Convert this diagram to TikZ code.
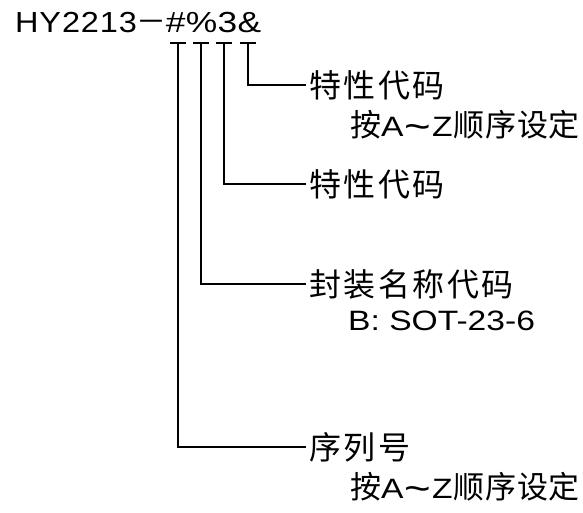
\documentclass[tikz,border=0pt]{standalone}
\usepackage{fontspec}
\usepackage{graphicx}
\setmainfont{Liberation Sans}
\newfontfamily\cjkmain[LetterSpace=8]{Noto Sans CJK SC}
\newfontfamily\cjksub[LetterSpace=2]{Noto Sans CJK SC}
\newfontfamily\latT[FakeStretch=1.12,LetterSpace=3]{Liberation Sans}
\newfontfamily\latU[FakeStretch=1.22,LetterSpace=1]{Liberation Sans}
\newfontfamily\latS[FakeStretch=1.2]{Liberation Sans}
\newcommand{\azrange}{{\fontsize{28}{34}\selectfont\latS A\kern1pt\raisebox{-3pt}{\fontsize{38}{40}\selectfont\textasciitilde}\kern1pt Z\kern1pt}}
\begin{document}
\begin{tikzpicture}[x=1pt,y=-1pt,
  wire/.style={line width=1.2pt},
  lab/.style={anchor=west, inner xsep=3pt, inner ysep=0pt, font=\fontsize{32}{36}\selectfont\cjkmain},
  sub/.style={anchor=base west, inner sep=0pt, font=\fontsize{31}{36}\selectfont\cjksub},
  latin/.style={font=\fontsize{28}{34}\selectfont\latS}]
\useasboundingbox (0,0) rectangle (583,513);
\node[anchor=base west, inner sep=0pt, font=\fontsize{29}{34}\selectfont] (title) at (15,33)
  {\latT HY2213{\fontsize{30}{34}\selectfont\cjksub －}\kern-1pt\latU\#\%3\&};
\coordinate (t1) at (178,43);
\coordinate (t2) at (201,43);
\coordinate (t3) at (224,43);
\coordinate (t4) at (248,43);
\foreach \t in {t1,t2,t3,t4}
  \draw[wire] ([xshift=-8pt]\t) -- ([xshift=8pt]\t);
\node[lab] (l1) at (306,85) {特性代码};
\node[sub] (s1) at (350,137) {按\azrange 顺序设定};
\node[lab] (l2) at (306,184) {特性代码};
\node[lab] (l3) at (306,284) {封装名称代码};
\node[anchor=base west, inner sep=0pt, latin] (s3) at (348,330) {B: SOT-23-6};
\node[lab] (l4) at (306,447) {序列号};
\node[sub] (s4) at (350,498) {按\azrange 顺序设定};
\draw[wire] (t4) |- (l1.west);
\draw[wire] (t3) |- (l2.west);
\draw[wire] (t2) |- (l3.west);
\draw[wire] (t1) |- (l4.west);
\end{tikzpicture}
\end{document}
